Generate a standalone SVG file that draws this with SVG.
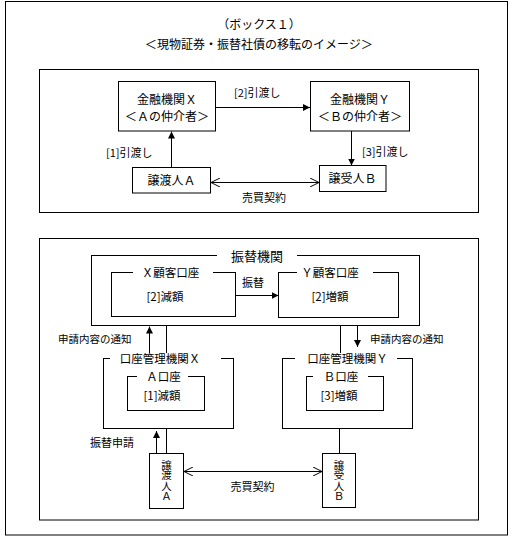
<svg xmlns="http://www.w3.org/2000/svg" width="510" height="537" viewBox="0 0 510 537">
<defs>
<style>
text{font-family:"Noto Sans CJK JP","Noto Sans",sans-serif;fill:#000;}
.t12{font-size:12px;text-anchor:middle;}
.t11{font-size:11px;}
.tm{text-anchor:middle;}
.vt{font-size:10.5px;text-anchor:middle;writing-mode:vertical-rl;text-orientation:upright;}
.box{fill:#fff;stroke:#000;stroke-width:1;}
.ln{fill:none;stroke:#000;stroke-width:1;}
.gap{fill:#fff;stroke:none;}
</style>
<marker id="fa" viewBox="0 0 10 10" refX="10" refY="5" markerWidth="7" markerHeight="7" markerUnits="userSpaceOnUse" orient="auto">
<path d="M0,0 L10,5 L0,10 z" fill="#000"/>
</marker>
<marker id="oa" viewBox="0 0 10 10" refX="10" refY="5" markerWidth="9" markerHeight="9" markerUnits="userSpaceOnUse" orient="auto-start-reverse">
<path d="M0,0 L10,5 L0,10" fill="none" stroke="#000" stroke-width="1.1"/>
</marker>
</defs>
<rect x="0" y="0" width="510" height="537" fill="#fff"/>
<rect class="ln" x="5.5" y="1.5" width="502" height="533.5"/>
<g id="titles">
<text class="t12" x="259" y="28.5">（ボックス１）</text>
<text class="t12" x="259" y="48.5">＜現物証券・振替社債の移転のイメージ＞</text>
</g>
<rect class="ln" x="39.5" y="69.5" width="439" height="143"/>
<rect class="ln" x="39.5" y="238.5" width="439" height="281.5"/>

<g id="connectors">
<line class="ln" x1="171.5" y1="167.5" x2="171.5" y2="131.5" marker-end="url(#fa)"/>
<line class="ln" x1="215.5" y1="107.5" x2="310" y2="107.5" marker-end="url(#fa)"/>
<line class="ln" x1="351.5" y1="131" x2="351.5" y2="165.5" marker-end="url(#fa)"/>
<line class="ln" x1="211" y1="182.5" x2="319" y2="182.5" marker-start="url(#oa)" marker-end="url(#oa)"/>
<text class="t11" x="234" y="97">[2]引渡し</text>
<text class="t11" x="106" y="157">[1]引渡し</text>
<text class="t11" x="362" y="156">[3]引渡し</text>
<text class="t11 tm" x="264" y="202">売買契約</text>

<line class="ln" x1="235.5" y1="295.5" x2="278.5" y2="295.5" marker-end="url(#fa)"/>
<text class="t11 tm" x="253" y="287">振替</text>
<line class="ln" x1="149.5" y1="358.5" x2="149.5" y2="326.5" marker-end="url(#fa)"/>
<line class="ln" x1="166.5" y1="325.5" x2="166.5" y2="358.5"/>
<line class="ln" x1="340.5" y1="325.5" x2="340.5" y2="358.5"/>
<line class="ln" x1="357.5" y1="325.5" x2="357.5" y2="347" marker-end="url(#fa)"/>
<text class="t11" x="58" y="343" style="font-size:10.5px">申請内容の通知</text>
<text class="t11" x="370" y="343" style="font-size:10.5px">申請内容の通知</text>
<line class="ln" x1="166.5" y1="428.5" x2="166.5" y2="453.5"/>
<line class="ln" x1="156.5" y1="453.5" x2="156.5" y2="431" marker-end="url(#fa)"/>
<line class="ln" x1="339.5" y1="428.5" x2="339.5" y2="453.5"/>
<text class="t11" x="90" y="447">振替申請</text>
<line class="ln" x1="184" y1="471.5" x2="322" y2="471.5" marker-start="url(#oa)" marker-end="url(#oa)"/>
<text class="t11 tm" x="252.5" y="491">売買契約</text>
</g>

<g id="nodeX">
<rect class="box" x="118.5" y="81.5" width="97" height="49.5"/>
<text class="t12" x="167" y="104">金融機関Ｘ</text>
<text class="t12" x="167" y="121">＜Ａの仲介者＞</text>
</g>
<g id="nodeY">
<rect class="box" x="310.5" y="81.5" width="99" height="49.5"/>
<text class="t12" x="360" y="104">金融機関Ｙ</text>
<text class="t12" x="360" y="121">＜Ｂの仲介者＞</text>
</g>
<g id="nodeA">
<rect class="box" x="132.5" y="167.5" width="78" height="25.5"/>
<text class="t12" x="171.5" y="185">譲渡人Ａ</text>
</g>
<g id="nodeB">
<rect class="box" x="319.5" y="165.5" width="66.5" height="26"/>
<text class="t12" x="352.5" y="183">譲受人Ｂ</text>
</g>

<g id="furikaeKikan">
<rect class="ln" x="91.5" y="255.5" width="328" height="70"/>
<rect class="gap" x="217" y="250" width="80" height="12"/>
<text class="t12" x="257" y="261" style="font-size:13px">振替機関</text>
</g>
<g id="xKokyaku">
<rect class="ln" x="111.5" y="272.5" width="124" height="44"/>
<rect class="gap" x="133" y="268" width="80" height="9"/>
<text class="t12" x="170.5" y="276.5" style="font-size:11.5px">Ｘ顧客口座</text>
<text class="t12" x="165" y="301" style="font-size:11.5px">[2]減額</text>
</g>
<g id="yKokyaku">
<rect class="ln" x="278.5" y="272.5" width="120" height="45"/>
<rect class="gap" x="297" y="268" width="76" height="9"/>
<text class="t12" x="330" y="276.5" style="font-size:11.5px">Ｙ顧客口座</text>
<text class="t12" x="330" y="301" style="font-size:11.5px">[2]増額</text>
</g>
<g id="kanriX">
<rect class="ln" x="103.5" y="358.5" width="130" height="70"/>
<rect class="gap" x="110" y="353" width="111" height="10"/>
<text class="t12" x="160" y="362.5" style="font-size:11.5px">口座管理機関Ｘ</text>
</g>
<g id="aKoza">
<rect class="ln" x="127.5" y="376.5" width="77" height="34"/>
<rect class="gap" x="137" y="371" width="51" height="10"/>
<text class="t12" x="163.5" y="380.5" style="font-size:11.5px">Ａ口座</text>
<text class="t12" x="162" y="399.5" style="font-size:11.5px">[1]減額</text>
</g>
<g id="kanriY">
<rect class="ln" x="282.5" y="358.5" width="130" height="70"/>
<rect class="gap" x="295" y="353" width="102" height="10"/>
<text class="t12" x="347.5" y="362.5" style="font-size:11.5px">口座管理機関Ｙ</text>
</g>
<g id="bKoza">
<rect class="ln" x="306.5" y="376.5" width="77" height="34"/>
<rect class="gap" x="313" y="371" width="55" height="10"/>
<text class="t12" x="341" y="380.5" style="font-size:11.5px">Ｂ口座</text>
<text class="t12" x="339" y="399.5" style="font-size:11.5px">[3]増額</text>
</g>
<g id="jotoninA">
<rect class="box" x="149.5" y="453.5" width="34" height="55"/>
<text class="vt" x="166.5" y="480.5">譲渡人Ａ</text>
</g>
<g id="jujuninB">
<rect class="box" x="322.5" y="453.5" width="33" height="54"/>
<text class="vt" x="339" y="480.5">譲受人Ｂ</text>
</g>
</svg>
